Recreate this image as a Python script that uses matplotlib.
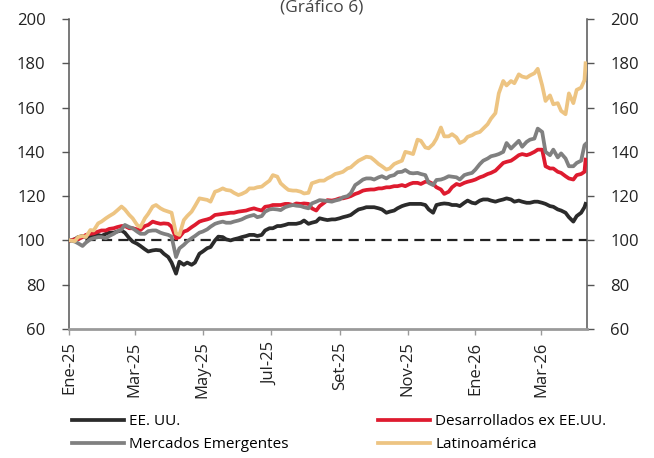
import pandas as pd
import matplotlib
matplotlib.use('Agg')
import matplotlib.pyplot as plt

FONTSIZE = 12
plt.rcParams.update({
    "font.family": ["Open Sans", "DejaVu Sans"],
    "font.size": FONTSIZE,
    "xtick.labelsize": FONTSIZE,
    "ytick.labelsize": FONTSIZE,
})

LINEWIDTH = 2.7
C_US = '#2b2b2b'
C_DEV = '#de1b2f'
C_EM = '#808080'
C_LAT = '#edc482'

# readings on Mondays and Thursdays, plus first and last day
start_date, end_date = '2025-01-02', '2026-04-10'
mondays = pd.date_range('2025-01-06', periods=66, freq='7D')
thursdays = pd.date_range('2025-01-09', periods=66, freq='7D')

eeuu_mon = [100.5, 102, 101.5, 102.5, 103, 103.5, 104.5, 101, 98.5, 96, 95.5, 95.5, 92.5, 85, 89, 89, 94, 96.5,
            100, 101.5, 100, 101, 102, 102.5, 102.5, 105.5, 106.5, 107, 107.5, 108, 107.5, 108.5, 109.5, 109.5, 110, 111,
            113, 114.5, 115, 114.5, 112.5, 113.5, 115.5, 116.5, 116.5, 116, 112.5, 116.5, 116.5, 116, 117,
            117, 118, 118.5, 117.5, 118.5, 118.5, 118, 117, 117.5, 117, 115.5, 114, 112.5, 108.5, 112.5]
eeuu_thu = [101.5, 101.5, 102.5, 102, 103.5, 104, 103.5, 99.5, 97.5, 95, 95.7, 94, 90, 90.4, 90, 90, 95, 97,
            101.7, 100.5, 100.5, 101.5, 102.5, 102, 104.5, 105.5, 106.5, 107.5, 107.5, 109, 108, 110, 109.2, 109.5, 110.5, 111.5,
            114, 115, 115, 114, 113, 114.5, 116, 116.5, 116.5, 114, 116, 116.7, 116, 115.5, 118,
            116.7, 118.5, 118, 118, 119, 117.5, 117.5, 117, 117.5, 116.5, 115.2, 113.5, 110.5, 111, 115]
eeuu_end = 116.5

desarrollados_mon = [100.5, 101.5, 103, 104, 104.5, 105.5, 106.5, 105.5, 105, 106.5, 108.5, 107.5, 107.5, 101, 104, 106, 108.5, 109.5,
                     111.5, 112, 112.5, 113, 113.5, 114.5, 113.5, 115.5, 116, 116.5, 116, 116.5, 116.5, 113.5, 117, 118, 119, 119.5,
                     121, 122.5, 123, 123.5, 124, 124.5, 125, 125.5, 126, 126.5, 125.5, 123, 122, 125.5, 126,
                     127, 128.5, 130, 131.5, 135, 136, 138.5, 138.5, 140, 141, 132.5, 131, 129, 127.5, 130]
desarrollados_thu = [100.5, 102.5, 103.2, 104.5, 105.2, 106, 106.5, 105.5, 104.7, 107, 108, 107.7, 106.2, 101.5, 104.5, 107, 109, 110,
                     111.7, 112.2, 112.5, 113.2, 114, 114, 115.2, 116, 116, 116.5, 116.7, 116.7, 114.5, 115.5, 118.2, 118.3, 119, 120,
                     121.5, 122.8, 123, 123.5, 124, 124.5, 124.5, 126, 125.5, 126.5, 124, 121, 124, 125, 126.5,
                     127.5, 129, 130.5, 133, 135.5, 137, 139, 139, 141, 133.5, 132.5, 130.5, 128, 129.5, 131]
desarrollados_end = 136.5

emergentes_mon = [99.5, 97.5, 100.5, 101.5, 101, 103, 105, 106, 104, 103, 104.5, 103.5, 102.5, 92.5, 98, 101, 103.5, 105,
                  107.5, 108.5, 108, 109, 110.5, 111.5, 111, 114, 114, 115, 116, 115.5, 114.5, 117.5, 118, 117.5, 118.5, 120,
                  125, 127.5, 128, 128.5, 128, 129.5, 131, 130.5, 130.5, 129.5, 125, 127.5, 129, 128.5, 129.5,
                  130.5, 134.5, 137, 138.5, 140, 141.5, 145, 144.5, 146, 149, 138.5, 137.5, 137, 133.5, 136]
emergentes_thu = [98.7, 99, 101, 101.5, 102, 104, 107, 105.5, 103, 104.2, 104.5, 103, 101.7, 96.4, 99.5, 102, 104, 106.2,
                  108, 108, 108.5, 109.5, 111, 110.5, 113, 114.2, 113.7, 115.5, 115.7, 115, 116.7, 118.2, 117.8, 118, 119.5, 121.3,
                  126, 128, 127.5, 129, 129, 130.8, 131.8, 130.3, 130, 126, 127.3, 128, 128.8, 127.5, 130,
                  132, 136, 138, 139, 144, 143, 142.3, 145.5, 150.5, 140, 141, 139.3, 133.5, 135, 143]
emergentes_end = 143.5

latam_mon = [99.7, 102, 104.7, 107.7, 110, 112.2, 115.3, 111.5, 107, 110, 115.3, 114.5, 113, 103.2, 109.2, 113, 119, 118.3,
             122, 123.5, 122.5, 120.5, 122, 123.5, 124.3, 127, 128.8, 124, 122.5, 122, 121.5, 126.5, 127, 129, 130.5, 132.5,
             134.8, 137, 137.5, 134.5, 132, 134.5, 136, 139.5, 145.5, 142, 143.5, 151, 147, 146.5, 145,
             147.5, 149, 152.5, 157.5, 172, 172, 175, 173.5, 175.5, 170, 165.5, 162, 157, 162, 169]
latam_thu = [101.5, 101.5, 104.5, 108.5, 111, 113.5, 114, 110, 106, 112, 116, 113.7, 112.5, 102.5, 111, 115.5, 118.7, 117.5,
             122.5, 122.8, 121.5, 121, 123.5, 124, 125.5, 129.5, 125.8, 122.8, 122.5, 121.2, 125.8, 127, 128, 130, 131, 133,
             136, 137.8, 136.3, 133.5, 132.5, 135.2, 140, 139, 145, 141.6, 146, 147, 148, 144, 146.8,
             148.4, 150.5, 155, 166.4, 170, 171, 174, 174.5, 177.5, 163, 161.5, 158.5, 166.4, 168, 172.4]
latam_end = 180

tick_dates = pd.date_range('2025-01-01', '2026-03-01', freq='2MS')
tick_labels = ['Ene-25', 'Mar-25', 'May-25', 'Jul-25', 'Set-25', 'Nov-25', 'Ene-26', 'Mar-26']
yticks = [60, 80, 100, 120, 140, 160, 180, 200]


def build(mon, thu, end):
    idx = (pd.DatetimeIndex([start_date]).append(mondays).append(thursdays)
           .append(pd.DatetimeIndex([end_date])))
    return pd.Series([100] + mon + thu + [end], index=idx).sort_index()


W, H = 654, 458
fig = plt.figure(figsize=(W / 100, H / 100), dpi=100)
ax = fig.add_axes([69.2 / W, 1 - 329 / H, (586.7 - 69.2) / W, (329 - 19) / H])

ax.axhline(100, color='#222222', lw=1.6, dashes=(4.6, 2.8), zorder=1)
s = build(eeuu_mon, eeuu_thu, eeuu_end)
l_us, = ax.plot(s.index, s.values, color=C_US, lw=LINEWIDTH, zorder=3)
s = build(desarrollados_mon, desarrollados_thu, desarrollados_end)
l_dev, = ax.plot(s.index, s.values, color=C_DEV, lw=LINEWIDTH, zorder=3)
s = build(emergentes_mon, emergentes_thu, emergentes_end)
l_em, = ax.plot(s.index, s.values, color=C_EM, lw=LINEWIDTH, zorder=3)
s = build(latam_mon, latam_thu, latam_end)
l_lat, = ax.plot(s.index, s.values, color=C_LAT, lw=LINEWIDTH, zorder=3)

ax.set_xlim(pd.Timestamp('2025-01-01'), pd.Timestamp('2026-04-11'))
ax.set_ylim(60, 200)
ax.set_yticks(yticks)
ax.set_xticks(tick_dates)
ax.set_xticklabels(tick_labels, rotation=90)

ax.spines['top'].set_visible(False)
for side in ['left', 'right']:
    ax.spines[side].set_color('#555555')
    ax.spines[side].set_linewidth(1.1)
ax.spines['bottom'].set_color('#9a9a9a')
ax.spines['bottom'].set_linewidth(2)

ax.tick_params(axis='y', which='both', left=True, right=True, labelleft=True, labelright=True,
               direction='out', length=5, width=1, color='#555555', pad=12, labelcolor='#222222')
ax.tick_params(axis='x', direction='out', length=4, width=1, color='#9a9a9a', pad=5, labelcolor='#222222')

fig.text(322 / W, 1 - 8 / H, '(Gráfico 6)', ha='center', va='center', fontsize=12.5, color='#444444')

leg_font = {'family': ['Open Sans'], 'size': 11}
leg_kw = dict(loc='upper left', frameon=False, borderpad=0, borderaxespad=0,
              handlelength=3.4, handletextpad=0.35, labelspacing=0.55, prop=leg_font)
fig.legend([l_us, l_em], ['EE. UU.', 'Mercados Emergentes'],
           bbox_to_anchor=(72 / W, 1 - 414 / H), **leg_kw)
fig.legend([l_dev, l_lat], ['Desarrollados ex EE.UU.', 'Latinoamérica'],
           bbox_to_anchor=(378 / W, 1 - 414 / H), **leg_kw)

fig.savefig('out.png', dpi=100)
